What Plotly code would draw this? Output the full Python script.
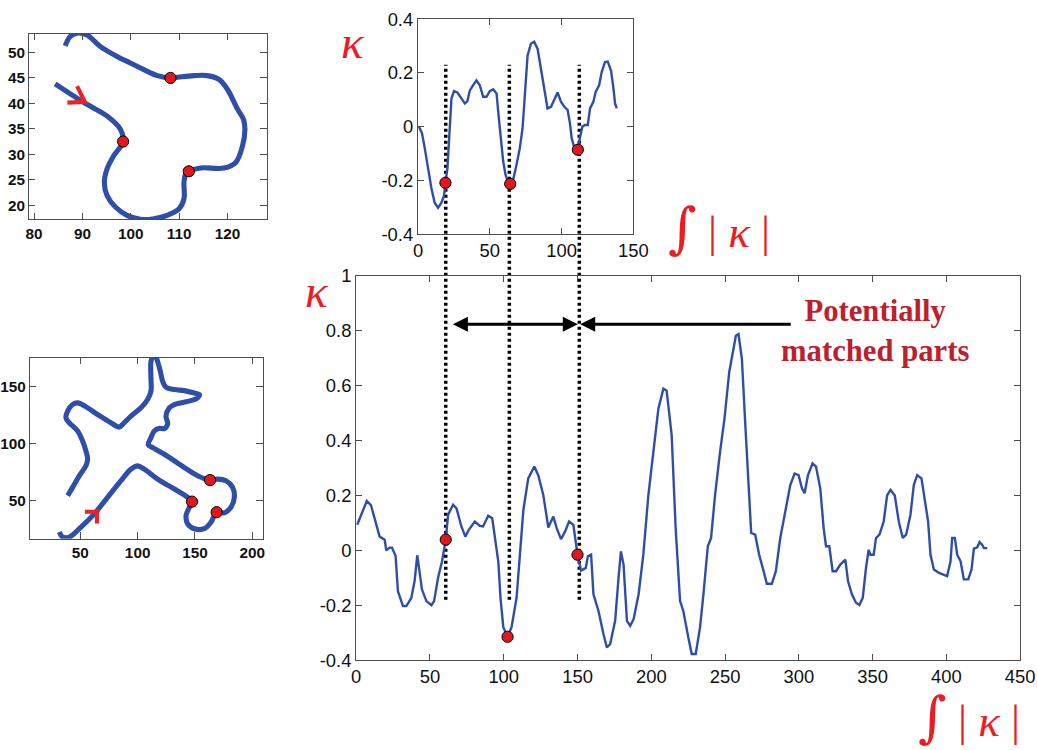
import plotly.graph_objects as go

# ---------------- data ----------------
# main curvature profile (arc-length integral of |kappa|, kappa)
main_s = [0.7, 7.2, 10, 13.6, 15.9, 19.3, 20.4, 22.6, 24.2, 26.7, 28.3, 31.7, 34, 37.4, 39.6, 41.4, 43, 44.6,
          47.6, 51, 52.8, 55.5, 58.2, 60.7, 62.3, 65.7, 68, 71.3, 74, 76.3, 80.4, 83.8, 86, 89.5, 92.2, 94, 96.3,
          97.8, 99.7, 102.6, 105.3, 108.7, 111, 113.3, 116.6, 120.7, 123.4, 126.8, 130.2, 132, 133.6, 135.9,
          138.8, 141.6, 144.3, 147.2, 149, 150, 152.4, 155.6, 157, 159.2, 160.8, 164.2, 167.6, 169.9, 172.1,
          175.5, 177.8, 179.4, 181.2, 183.5, 185.7, 188, 191.4, 194.6, 198, 201.4, 204.8, 208.2, 210.4, 213.8,
          216.5, 219.5, 221.7, 225.1, 227.4, 230.1, 233, 235.3, 238.3, 240.5, 243.2, 246.6, 249.6, 252.8, 255,
          257.3, 259.1, 261.4, 263.6, 265.9, 267.7, 270.4, 273.1, 276.1, 278.3, 281.7, 284.4, 287.4, 290.3,
          291.9, 294.2, 297.1, 299.8, 302.1, 303.9, 306.2, 309.3, 311.6, 314.5, 316.8, 318.4, 320.6, 322.9,
          325.2, 328.1, 331.5, 333.3, 336, 338.7, 341, 343.3, 345.5, 347.3, 348.5, 350.7, 352.3, 354.6, 357.5,
          359.8, 362.1, 365, 367.7, 370.4, 372.7, 375.6, 377.9, 380.2, 383.1, 385.4, 387.6, 389.2, 391.5,
          394.9, 398.3, 400.5, 402.8, 403.9, 405.7, 407.3, 409.6, 411.8, 414.8, 417, 418.6, 420.9, 422.5,
          424.3, 425.4, 427.7]
main_k = [0.093, 0.18, 0.165, 0.093, 0.05, 0.039, 0.0, 0.01, 0.01, -0.02, -0.149, -0.203, -0.203, -0.173, -0.112,
          -0.018, -0.076, -0.143, -0.185, -0.2, -0.185, -0.1, -0.04, 0.039, 0.13, 0.166, 0.153, 0.087, 0.05,
          0.075, 0.105, 0.089, 0.087, 0.126, 0.117, 0.045, -0.04, -0.173, -0.28, -0.315, -0.28, -0.173, -0.016,
          0.147, 0.262, 0.305, 0.274, 0.202, 0.083, 0.105, 0.123, 0.081, 0.041, 0.069, 0.105, 0.093, 0.033,
          -0.016, -0.074, -0.064, -0.022, -0.016, -0.16, -0.221, -0.306, -0.354, -0.342, -0.257, -0.1, -0.004,
          -0.052, -0.257, -0.275, -0.251, -0.16, -0.016, 0.2, 0.359, 0.516, 0.589, 0.582, 0.42, 0.081, -0.185,
          -0.221, -0.318, -0.378, -0.378, -0.282, -0.161, 0.015, 0.045, 0.2, 0.359, 0.48, 0.649, 0.709, 0.782,
          0.788, 0.697, 0.468, 0.226, 0.063, 0.057, -0.016, -0.076, -0.122, -0.122, -0.076, 0.045, 0.129,
          0.166, 0.238, 0.28, 0.274, 0.226, 0.208, 0.274, 0.317, 0.305, 0.226, 0.081, 0.015, 0.015, -0.076,
          -0.076, -0.052, -0.034, -0.112, -0.161, -0.191, -0.199, -0.173, -0.064, 0.002, -0.016, -0.016, 0.045,
          0.057, 0.105, 0.2, 0.22, 0.2, 0.105, 0.045, 0.057, 0.129, 0.238, 0.274, 0.262, 0.178, 0.105, -0.016,
          -0.07, -0.082, -0.088, -0.094, -0.04, 0.045, 0.045, -0.016, -0.04, -0.106, -0.106, -0.07, 0.006,
          0.011, 0.03, 0.02, 0.008, 0.008]
main_pts_s = [60.7, 102.6, 150.0]
main_pts_k = [0.039, -0.315, -0.016]

# inset (part) curvature profile
top_s = [0.7, 2.8, 4.7, 7, 9.3, 11.6, 14, 16.3, 18.1, 19.1, 20.5, 22.1, 23.3, 25.1, 27.4, 30.2, 32.6, 34.4, 36.1,
         38.4, 40.7, 43, 45.4, 47.7, 50, 52.3, 54.7, 56.3, 57.7, 59.3, 60.9, 62.8, 64.4, 66.3, 68.6, 70.9,
         72.8, 74.4, 76.3, 78.6, 80.9, 83.3, 85.6, 87.9, 90.2, 92.6, 95.4, 97.2, 99.6, 101.9, 104.2, 105.8,
         107, 108.9, 111, 112.8, 114.4, 116.3, 118.2, 119.8, 122.1, 123.7, 126.1, 127.9, 130.2, 132.1, 134.4,
         136.1, 137.2, 138.4]
top_k = [0, -0.025, -0.08, -0.154, -0.228, -0.283, -0.302, -0.283, -0.258, -0.209, -0.154, -0.006, 0.105, 0.132,
         0.127, 0.105, 0.086, 0.095, 0.135, 0.154, 0.172, 0.154, 0.111, 0.111, 0.132, 0.139, 0.123, 0.031,
         -0.055, -0.129, -0.178, -0.209, -0.213, -0.197, -0.142, -0.08, -0.006, 0.129, 0.265, 0.308, 0.316,
         0.289, 0.215, 0.142, 0.068, 0.074, 0.105, 0.127, 0.092, 0.074, 0.062, 0.012, -0.043, -0.08, -0.086,
         -0.043, 0, 0.006, 0.006, 0.068, 0.092, 0.129, 0.154, 0.203, 0.24, 0.242, 0.209, 0.142, 0.086, 0.068]
top_pts_s = [19.1, 64.2, 111.3]
top_pts_k = [-0.209, -0.213, -0.086]

# matched positions (on the main profile axis)
match_s = [60.7, 103.8, 151.2]

# shape 1 (part) outline
shape1_x = [84.36, 90.38, 95.09, 97.85, 98.41, 96.47, 95.09, 94.53, 95.09, 96.82, 99.24, 102.0, 104.8, 107.5,
            110.0, 111.0, 111.0, 111.35, 112.0, 114.46, 119.3, 121.7, 123.1, 123.6, 123.3, 122.1, 120.0, 118.3,
            115.85, 113.08, 109.97, 108.2, 105.47, 102.7, 99.93, 97.16, 93.7, 90.93, 88.86, 87.47, 86.44]
shape1_y = [43.83, 40.13, 37.53, 34.94, 32.53, 29.74, 27.14, 24.55, 21.95, 19.68, 18.05, 17.27, 17.4, 18.05,
            19.35, 21.3, 24.55, 26.17, 26.69, 27.34, 27.34, 28.44, 31.69, 34.94, 36.88, 38.83, 42.73, 44.68,
            45.45, 45.45, 45.19, 45.0, 45.45, 46.62, 47.92, 49.22, 51.17, 53.44, 53.77, 53.12, 51.3]
shape1_pts_x = [98.41, 112.0, 108.2]
shape1_pts_y = [32.53, 26.69, 45.0]
shape1_dir_x = [86.9, 90.5, 88.9]
shape1_dir_y = [40.15, 40.3, 43.4]

# shape 2 (whole) outline
shape2_x = [31.7, 34.6, 40.4, 50.6, 62.2, 73.8, 85.5, 94.2, 100, 105.8, 117.4, 132.0, 143.6, 147.4, 145.1, 142.2,
            143.6, 149.4, 158.1, 164.0, 168.9, 175.6, 181.4, 184.3, 182.8, 177.0, 169.8, 163.1, 152.3, 140.7,
            123.3, 113.1, 109.3, 111.6, 114.5, 118.9, 123.3, 126.2, 124.7, 127.6, 132.0, 146.5, 152.3, 153.8,
            149.4, 140.7, 132.0, 124.7, 121.8, 119.8, 117.4, 116.0, 113.1, 111.6, 111.6, 111.6, 108.7, 102.9,
            94.2, 86.9, 84.0, 76.7, 65.1, 56.4, 47.7, 43.3, 39.0, 37.5, 40.4, 47.7, 52.0, 54.9, 56.4, 54.9,
            49.1, 44.2, 39.0]
shape2_y = [21.9, 17.5, 17.5, 26.3, 38.0, 52.6, 67.3, 77.5, 80.4, 77.5, 68.7, 59.9, 52.6, 48.8, 43.9, 36.5,
            29.2, 24.9, 24.9, 30.7, 39.5, 38.9, 43.9, 52.6, 61.4, 67.3, 68.7, 67.8, 71.6, 78.9, 90.6, 96.5,
            98.8, 105.3, 111.1, 113.5, 113.2, 117.5, 124.3, 131.6, 134.5, 138.0, 140.4, 143.3, 144.7, 146.8,
            147.7, 149.7, 155.0, 163.7, 172.5, 176.0, 176.0, 172.5, 157.9, 146.2, 138.9, 131.6, 124.3, 117.0,
            114.6, 118.4, 125.7, 131.6, 136.0, 134.5, 128.7, 122.8, 118.4, 111.1, 102.3, 93.6, 86.3, 80.4,
            71.6, 62.9, 54.1]
shape2_pts_x = [147.4, 168.9, 163.1]
shape2_pts_y = [48.8, 39.5, 67.8]
shape2_dir_x = [54.0, 66.6, None, 64.5, 64.5]
shape2_dir_y = [39.8, 39.8, None, 39.8, 29.5]

# tick labels
main_xticks = [0, 50, 100, 150, 200, 250, 300, 350, 400, 450]
main_yticks = [-0.4, -0.2, 0, 0.2, 0.4, 0.6, 0.8, 1]
main_ytext = ["-0.4", "-0.2", "0", "0.2", "0.4", "0.6", "0.8", "1"]
top_xticks = [0, 50, 100, 150]
top_yticks = [-0.4, -0.2, 0, 0.2, 0.4]
top_ytext = ["-0.4", "-0.2", "0", "0.2", "0.4"]
s1_xticks = [80, 90, 100, 110, 120]
s1_yticks = [20, 25, 30, 35, 40, 45, 50]
s2_xticks = [50, 100, 150, 200]
s2_yticks = [50, 100, 150]

# ---------------- styling ----------------
# The page is shown with an 8px body margin and the capture is scaled down by ~0.978;
# layout pixels are derived from target (picture) pixels accordingly.
PAD = 8
SX, SY = 0.979, 0.977
W = int(round(1037 / SX - PAD))
H = int(round(750 / SY - PAD))
FS = 1 / ((SX + SY) / 2)     # font / size compensation
BLUE = "#2f4ea8"
RED_PT = "#e3161b"
RED_TXT = "#ec1c24"
DARK_RED = "#bf1e2d"
AX = "#4d4d4d"


def fx(px):   # picture pixel -> paper x
    return (px / SX - PAD) / W


def fy(py):   # picture pixel -> paper y
    return 1 - (py / SY - PAD) / H


def fs(v):
    return round(v * FS, 1)


# axis boxes from picture pixels (left, right, bottom, top) -> paper
DOM_S1 = (fx(32), fx(269), fy(217), fy(31))
DOM_S2 = (fx(32.7), fx(265), fy(538), fy(356))
DOM_TOP = (fx(420), fx(635), fy(232), fy(16))
DOM_MAIN = (fx(358.3), fx(1021), fy(660), fy(274))

R_S1 = ([79.0, 128.1], [17.3, 53.6])
R_S2 = ([6.1, 209.0], [16.1, 176.0])
R_TOP = ([0, 150], [-0.4, 0.4])
R_MAIN = ([0, 450], [-0.4, 1.0])


def axis(dom, rng, tickvals, ticktext=None, size=18, bold=False, anchor=None):
    d = dict(domain=list(dom), range=rng, tickvals=tickvals, showgrid=False, zeroline=False,
             showline=True, linecolor=AX, linewidth=1.2, mirror="ticks", ticks="inside",
             ticklen=fs(6), tickcolor=AX, tickwidth=1,
             tickfont=dict(family="Liberation Sans, Arial", size=fs(size), color="#111"),
             anchor=anchor, fixedrange=True)
    if ticktext is not None:
        d["ticktext"] = ticktext
    if bold:
        d["tickfont"]["weight"] = "bold"
    return d


MARK = dict(color=RED_PT, size=fs(11), line=dict(color="black", width=1))

fig = go.Figure()

# shape 1
fig.add_trace(go.Scatter(x=shape1_x, y=shape1_y, mode="lines",
                         line=dict(color=BLUE, width=fs(5), shape="spline"), xaxis="x", yaxis="y"))
fig.add_trace(go.Scatter(x=shape1_dir_x, y=shape1_dir_y, mode="lines", line=dict(color="#f02020", width=fs(4)),
                         xaxis="x", yaxis="y"))
fig.add_trace(go.Scatter(x=shape1_pts_x, y=shape1_pts_y, mode="markers", marker=MARK, xaxis="x", yaxis="y"))
# shape 2
fig.add_trace(go.Scatter(x=shape2_x, y=shape2_y, mode="lines",
                         line=dict(color=BLUE, width=fs(5), shape="spline"), xaxis="x2", yaxis="y2"))
fig.add_trace(go.Scatter(x=shape2_dir_x, y=shape2_dir_y, mode="lines", line=dict(color="#f02020", width=fs(4)),
                         xaxis="x2", yaxis="y2"))
fig.add_trace(go.Scatter(x=shape2_pts_x, y=shape2_pts_y, mode="markers", marker=MARK, xaxis="x2", yaxis="y2"))
# top profile
fig.add_trace(go.Scatter(x=top_s, y=top_k, mode="lines", line=dict(color=BLUE, width=2.4),
                         xaxis="x3", yaxis="y3"))
# main profile
fig.add_trace(go.Scatter(x=main_s, y=main_k, mode="lines", line=dict(color=BLUE, width=2.4),
                         xaxis="x4", yaxis="y4"))
# red matched points
fig.add_trace(go.Scatter(x=top_pts_s, y=top_pts_k, mode="markers", marker=MARK,
                         xaxis="x3", yaxis="y3", cliponaxis=False))
fig.add_trace(go.Scatter(x=main_pts_s, y=main_pts_k, mode="markers", marker=MARK,
                         xaxis="x4", yaxis="y4", cliponaxis=False))

# dotted connector lines spanning from inset to main profile (drawn below the traces)
dot_top_k = 0.23      # inset kappa where dotted lines start
dot_bot_k = -0.18     # main kappa where dotted lines end


def paper_y(dom, rng, v):
    return dom[2] + (v - rng[1][0]) / (rng[1][1] - rng[1][0]) * (dom[3] - dom[2])


y_top = paper_y(DOM_TOP, R_TOP, dot_top_k)
y_bot = paper_y(DOM_MAIN, R_MAIN, dot_bot_k)
shapes = []
for s in match_s:
    shapes.append(dict(type="line", xref="x4", yref="paper", x0=s, x1=s, y0=y_bot, y1=y_top,
                       line=dict(color="black", width=3.5, dash="3px,3px"), layer="below"))

arrow_k = 0.824
KFONT = "Liberation Serif, Times New Roman, serif"
INT_TXT = ("<span style='font-family:DejaVu Serif;font-size:%dpx'>∫</span> | <i>κ</i> |" % int(round(54 * FS)))
annotations = [
    dict(x=150.2, y=arrow_k, ax=64.5, ay=arrow_k, xref="x4", yref="y4", axref="x4", ayref="y4",
         text="", showarrow=True, arrowhead=2, startarrowhead=2, arrowside="end+start", arrowsize=1,
         startarrowsize=1, arrowwidth=3, arrowcolor="black"),
    dict(x=151.8, y=arrow_k, ax=295.5, ay=arrow_k, xref="x4", yref="y4", axref="x4", ayref="y4",
         text="", showarrow=True, arrowhead=2, arrowsize=1, arrowwidth=3, arrowcolor="black"),
    dict(x=351.4, y=0.8, xref="x4", yref="y4", text="<b>Potentially<br>matched parts</b>",
         showarrow=False, xanchor="center", yanchor="middle",
         font=dict(family="Liberation Serif, Times New Roman", size=fs(30), color=DARK_RED)),
    # kappa labels
    dict(x=fx(319), y=fy(289), xref="paper", yref="paper", text="<i>κ</i>", showarrow=False,
         xanchor="center", yanchor="middle", font=dict(family=KFONT, size=fs(46), color=RED_TXT)),
    dict(x=fx(355), y=fy(39), xref="paper", yref="paper", text="<i>κ</i>", showarrow=False,
         xanchor="center", yanchor="middle", font=dict(family=KFONT, size=fs(46), color=RED_TXT)),
    dict(x=fx(970), y=fy(717), xref="paper", yref="paper", text=INT_TXT, showarrow=False,
         xanchor="center", yanchor="middle", font=dict(family=KFONT, size=fs(44), color=RED_TXT)),
    dict(x=fx(720), y=fy(226), xref="paper", yref="paper", text=INT_TXT, showarrow=False,
         xanchor="center", yanchor="middle", font=dict(family=KFONT, size=fs(44), color=RED_TXT)),
]

fig.update_layout(
    width=W, height=H, margin=dict(l=0, r=0, t=0, b=0),
    paper_bgcolor="white", plot_bgcolor="rgba(0,0,0,0)", showlegend=False,
    xaxis=axis(DOM_S1[:2], R_S1[0], s1_xticks, size=15, bold=True, anchor="y"),
    yaxis=axis(DOM_S1[2:], R_S1[1], s1_yticks, size=15, bold=True, anchor="x"),
    xaxis2=axis(DOM_S2[:2], R_S2[0], s2_xticks, size=15, bold=True, anchor="y2"),
    yaxis2=axis(DOM_S2[2:], R_S2[1], s2_yticks, size=15, bold=True, anchor="x2"),
    xaxis3=axis(DOM_TOP[:2], R_TOP[0], top_xticks, size=18, anchor="y3"),
    yaxis3=axis(DOM_TOP[2:], R_TOP[1], top_yticks, top_ytext, size=18, anchor="x3"),
    xaxis4=axis(DOM_MAIN[:2], R_MAIN[0], main_xticks, size=18, anchor="y4"),
    yaxis4=axis(DOM_MAIN[2:], R_MAIN[1], main_yticks, main_ytext, size=18, anchor="x4"),
    shapes=shapes, annotations=annotations,
)

fig.write_html("out.html")
